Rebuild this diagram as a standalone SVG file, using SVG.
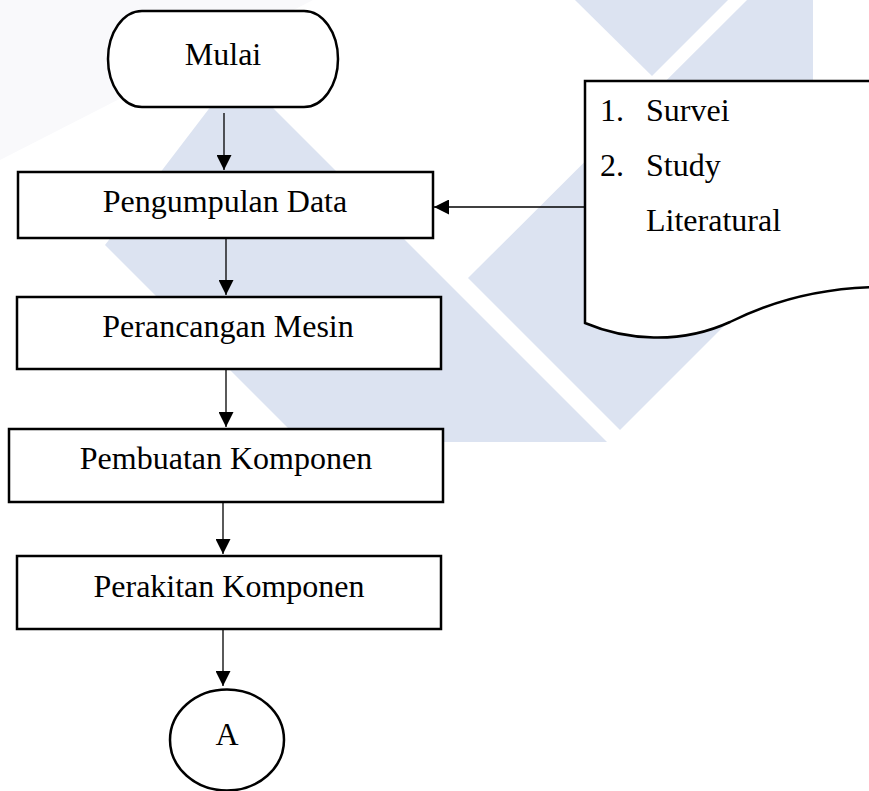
<svg xmlns="http://www.w3.org/2000/svg" width="869" height="791" viewBox="0 0 869 791">
<style>
.wm{fill:#dce3f1;stroke:none}
.box{fill:#fff;stroke:#000;stroke-width:2.5}
.lbl{font-family:"Liberation Serif","Times New Roman",serif;font-size:32px;fill:#000}
.mid{text-anchor:middle}
.conn{stroke:#000;stroke-width:1.3;fill:none}
</style>
<defs>
<marker id="arr" viewBox="0 0 10 10" refX="10" refY="5" markerWidth="15" markerHeight="15" markerUnits="userSpaceOnUse" orient="auto">
<path d="M0,0 L10,5 L0,10 z" fill="#000"/>
</marker>
</defs>
<rect width="869" height="791" fill="#fff"/>
<g id="watermark">
<polygon points="0,0 313,0 0,160" fill="#f9f9fb"/>
<polygon class="wm" points="237,72 607,442 302,442 105,245"/>
<polygon class="wm" points="747,0 813,0 813,237 620,430 468,278"/>
<polygon class="wm" points="575,0 728,0 652,76"/>
</g>
<g id="connectors">
<line class="conn" x1="224" y1="113" x2="224" y2="170" marker-end="url(#arr)"/>
<line class="conn" x1="226" y1="238" x2="226" y2="295" marker-end="url(#arr)"/>
<line class="conn" x1="226" y1="369" x2="226" y2="427" marker-end="url(#arr)"/>
<line class="conn" x1="223" y1="502" x2="223" y2="554" marker-end="url(#arr)"/>
<line class="conn" x1="223" y1="629" x2="223" y2="686" marker-end="url(#arr)"/>
<line class="conn" x1="585" y1="207" x2="434" y2="207" marker-end="url(#arr)"/>
</g>
<g id="mulai">
<rect class="box" x="108" y="11" width="230" height="96" rx="34" ry="48"/>
<text class="lbl mid" x="223" y="65">Mulai</text>
</g>
<g id="pengumpulan">
<rect class="box" x="18" y="172" width="415" height="66"/>
<text class="lbl mid" x="225" y="212">Pengumpulan Data</text>
</g>
<g id="perancangan">
<rect class="box" x="17" y="297" width="424" height="72"/>
<text class="lbl mid" x="228" y="337">Perancangan Mesin</text>
</g>
<g id="pembuatan">
<rect class="box" x="9" y="429" width="434" height="73"/>
<text class="lbl mid" x="226" y="469">Pembuatan Komponen</text>
</g>
<g id="perakitan">
<rect class="box" x="17" y="556" width="424" height="73"/>
<text class="lbl mid" x="229" y="597">Perakitan Komponen</text>
</g>
<g id="konektorA">
<ellipse class="box" cx="227" cy="740" rx="57" ry="50.5"/>
<text class="lbl mid" x="227" y="745">A</text>
</g>
<g id="dokumen">
<path class="box" d="M876,81 L585,81 L585,323 C625,340 680,345 730,322 C770,302 820,288 876,287"/>
<text class="lbl" x="600" y="121">1.</text>
<text class="lbl" x="646" y="121">Survei</text>
<text class="lbl" x="600" y="176">2.</text>
<text class="lbl" x="646" y="176">Study</text>
<text class="lbl" x="646" y="231">Literatural</text>
</g>
</svg>
